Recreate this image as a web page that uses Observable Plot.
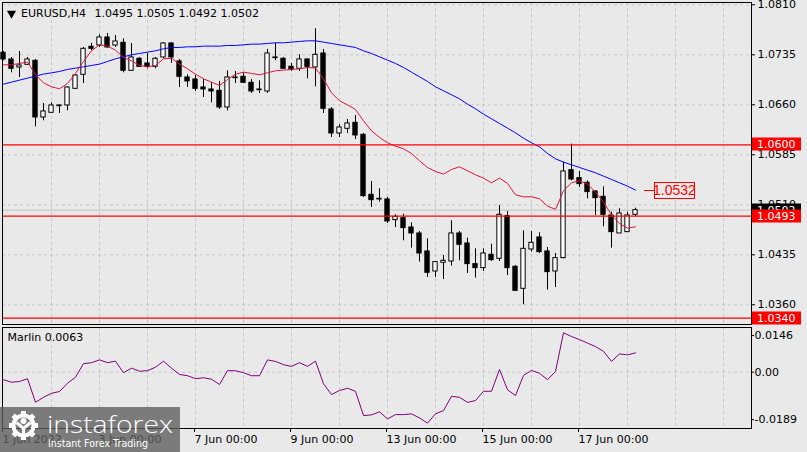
<!DOCTYPE html>
<html><head><meta charset="utf-8">
<script src="https://cdn.jsdelivr.net/npm/d3@7"></script>
<script src="https://cdn.jsdelivr.net/npm/@observablehq/plot@0.6"></script>
<style>
html,body{margin:0;padding:0;background:#e9e9e9;}
#chart{width:807px;height:452px;position:relative;overflow:hidden;background:#e9e9e9;}
#chart svg{display:block;}
</style></head><body><div id="chart"></div>
<script>
// ---- data (EURUSD H4, 1 Jun 2022 00:00 onward, one bar per index) ----
const opens = [1.0738,1.0728,1.0716,1.0720,1.0726,1.0641,1.0648,1.0658,1.0659,1.0684,
1.0705,1.0747,1.0749,1.0761,1.0749,1.0753,1.0711,1.0729,1.0722,1.0717,
1.0731,1.0752,1.0725,1.0701,1.0698,1.0686,1.0683,1.0681,1.0656,1.0700,
1.0702,1.0693,1.0682,1.0680,1.0730,1.0729,1.0717,1.0714,1.0728,1.0716,
1.0737,1.0653,1.0617,1.0624,1.0633,1.0615,1.0525,1.0519,1.0518,1.0487,
1.0490,1.0476,1.0467,1.0440,1.0410,1.0423,1.0425,1.0467,1.0452,1.0421,
1.0415,1.0435,1.0429,1.0493,1.0417,1.0384,1.0443,1.0461,1.0440,1.0410,
1.0430,1.0562,1.0550,1.0543,1.0530,1.0522,1.0494,1.0467,1.0469,1.0495];
const highs = [1.0740,1.0731,1.0740,1.0731,1.0728,1.0662,1.0663,1.0660,1.0687,1.0705,
1.0746,1.0752,1.0765,1.0767,1.0764,1.0759,1.0752,1.0731,1.0737,1.0731,
1.0753,1.0753,1.0728,1.0705,1.0704,1.0698,1.0693,1.0695,1.0711,1.0710,
1.0708,1.0698,1.0696,1.0743,1.0752,1.0731,1.0722,1.0735,1.0729,1.0774,
1.0743,1.0656,1.0630,1.0638,1.0644,1.0617,1.0545,1.0534,1.0521,1.0495,
1.0496,1.0483,1.0470,1.0459,1.0425,1.0434,1.0486,1.0470,1.0460,1.0444,
1.0444,1.0451,1.0509,1.0500,1.0419,1.0471,1.0470,1.0468,1.0446,1.0437,
1.0574,1.0601,1.0560,1.0546,1.0531,1.0537,1.0499,1.0504,1.0499,1.0505];
const lows = [1.0726,1.0708,1.0701,1.0719,1.0627,1.0636,1.0647,1.0647,1.0651,1.0683,
1.0692,1.0741,1.0746,1.0745,1.0746,1.0708,1.0710,1.0716,1.0714,1.0714,
1.0729,1.0722,1.0686,1.0686,1.0680,1.0671,1.0663,1.0653,1.0651,1.0692,
1.0692,1.0677,1.0677,1.0677,1.0726,1.0713,1.0710,1.0710,1.0699,1.0687,
1.0647,1.0611,1.0611,1.0617,1.0608,1.0521,1.0506,1.0514,1.0482,1.0476,
1.0456,1.0445,1.0424,1.0401,1.0401,1.0398,1.0418,1.0426,1.0407,1.0400,
1.0410,1.0425,1.0425,1.0404,1.0380,1.0360,1.0439,1.0437,1.0382,1.0386,
1.0429,1.0546,1.0536,1.0519,1.0494,1.0477,1.0445,1.0467,1.0469,1.0492];
const closes = [1.0728,1.0714,1.0719,1.0728,1.0641,1.0650,1.0659,1.0659,1.0686,1.0704,
1.0744,1.0744,1.0761,1.0746,1.0755,1.0711,1.0731,1.0717,1.0717,1.0729,
1.0752,1.0731,1.0702,1.0695,1.0684,1.0683,1.0680,1.0656,1.0701,1.0701,
1.0693,1.0680,1.0683,1.0737,1.0731,1.0714,1.0713,1.0728,1.0717,1.0735,
1.0654,1.0617,1.0626,1.0632,1.0614,1.0523,1.0517,1.0518,1.0485,1.0492,
1.0475,1.0467,1.0437,1.0408,1.0424,1.0426,1.0467,1.0450,1.0421,1.0415,
1.0437,1.0427,1.0495,1.0415,1.0381,1.0444,1.0453,1.0439,1.0409,1.0430,
1.0560,1.0548,1.0541,1.0529,1.0520,1.0495,1.0469,1.0497,1.0494,1.0502];
const maFast = [1.0720,1.0720,1.0722,1.0724,1.0705,1.0693,1.0687,1.0684,1.0692,1.0707,
1.0725,1.0741,1.0750,1.0748,1.0742,1.0731,1.0726,1.0719,1.0717,1.0719,
1.0729,1.0730,1.0721,1.0714,1.0706,1.0699,1.0694,1.0689,1.0698,1.0706,
1.0709,1.0707,1.0705,1.0708,1.0711,1.0712,1.0713,1.0714,1.0716,1.0715,
1.0699,1.0678,1.0666,1.0660,1.0653,1.0636,1.0621,1.0611,1.0603,1.0598,
1.0594,1.0587,1.0576,1.0566,1.0560,1.0556,1.0563,1.0567,1.0561,1.0555,
1.0550,1.0543,1.0550,1.0542,1.0525,1.0522,1.0522,1.0519,1.0508,1.0503,
1.0531,1.0543,1.0546,1.0541,1.0529,1.0514,1.0495,1.0482,1.0475,1.0477];
const maSlow = [1.0691,1.0694,1.0697,1.0700,1.0703,1.0706,1.0708,1.0710,1.0713,1.0715,
1.0717,1.0719,1.0721,1.0725,1.0729,1.0732,1.0735,1.0737,1.0739,1.0741,
1.0744,1.0746,1.0746,1.0747,1.0747,1.0748,1.0748,1.0748,1.0749,1.0749,
1.0750,1.0751,1.0751,1.0752,1.0753,1.0753,1.0754,1.0755,1.0756,1.0756,
1.0754,1.0752,1.0750,1.0748,1.0746,1.0741,1.0737,1.0732,1.0727,1.0722,
1.0716,1.0709,1.0702,1.0695,1.0687,1.0681,1.0675,1.0669,1.0661,1.0654,
1.0646,1.0639,1.0632,1.0625,1.0618,1.0610,1.0603,1.0597,1.0587,1.0579,
1.0574,1.0570,1.0566,1.0562,1.0558,1.0553,1.0548,1.0543,1.0538,1.0532];
const marlin = [-0.0030,-0.0040,-0.0037,-0.0026,-0.0120,-0.0100,-0.0084,-0.0077,-0.0044,-0.0020,
0.0034,0.0038,0.0049,0.0038,0.0044,-0.0002,0.0016,0.0004,0.0006,0.0020,
0.0044,0.0016,-0.0009,-0.0014,-0.0026,-0.0022,-0.0028,-0.0049,0.0006,0.0006,
-0.0002,-0.0014,-0.0014,0.0049,0.0043,0.0030,0.0023,0.0038,0.0023,0.0044,
-0.0046,-0.0089,-0.0073,-0.0064,-0.0076,-0.0173,-0.0170,-0.0158,-0.0186,-0.0169,
-0.0169,-0.0166,-0.0182,-0.0203,-0.0166,-0.0153,-0.0096,-0.0100,-0.0120,-0.0113,
-0.0076,-0.0076,0.0011,-0.0070,-0.0093,-0.0013,0.0007,-0.0004,-0.0030,0.0003,
0.0157,0.0142,0.0130,0.0116,0.0102,0.0083,0.0043,0.0073,0.0069,0.0077];

const priceTicks = [1.0810,1.0735,1.0660,1.0585,1.0510,1.0435,1.0360];
const marlinTicks = [0.0146,0,-0.0189];
const marlinTickLabels = ["0.0146","0.00","-0.0189"];
const dateTicks = [0,12,24,36,48,60,72];
const dateLabels = ["1 Jun 2022","3 Jun 00:00","7 Jun 00:00","9 Jun 00:00","13 Jun 00:00","15 Jun 00:00","17 Jun 00:00"];
const gridBars = [6,12,18,24,30,36,42,48,54,60,66,72,78,84,90];
const levels = [1.0600,1.0493,1.0340];
const bidPrice = 1.0502;
const symbolTitle = "EURUSD,H4";
const ohlcTitle = "1.0495 1.0505 1.0492 1.0502";
const marlinTitle = "Marlin 0.0063";
const slowLabel = "1.0532";

// ---- build ----
const bars = opens.map((o,i)=>({i, o, h: highs[i], l: lows[i], c: closes[i]}));
const fast = maFast.map((v,i)=>({i, v}));
const slow = maSlow.map((v,i)=>({i, v}));
const osc = marlin.map((v,i)=>({i, v}));

const BG = "#e9e9e9";
const GRID = "#c6c6c6";
const FONT = "DejaVu Sans, Verdana, sans-serif";
const xDomain = [-0.125, 93.5];
const common = {width: 807, marginLeft: 2, marginRight: 56,
  style: {background: BG, fontFamily: FONT, fontSize: "11px", color: "#000", overflow: "visible"}};

const main = Plot.plot({
  ...common, height: 326, marginTop: 2, marginBottom: 2,
  x: {domain: xDomain, axis: null},
  y: {domain: [1.033045, 1.081345], axis: null, label: null},
  marks: [
    Plot.ruleX(gridBars, {stroke: GRID, strokeDasharray: "3,3"}),
    Plot.ruleY(priceTicks, {stroke: GRID, strokeDasharray: "3,3"}),
    Plot.ruleY([bidPrice], {stroke: "#c0c0c0"}),
    Plot.ruleX(bars, {x: "i", y1: "l", y2: "h", stroke: "#000"}),
    Plot.rect(bars, {x1: d => d.i - 0.27, x2: d => d.i + 0.27, y1: "o", y2: "c",
      fill: d => d.c >= d.o ? "#fff" : "#000", stroke: "#000"}),
    Plot.line(slow, {x: "i", y: "v", stroke: "#0000ff", strokeWidth: 1}),
    Plot.line(fast, {x: "i", y: "v", stroke: "#dc143c", strokeWidth: 1}),
    Plot.ruleY(levels, {stroke: "#ff0000", strokeWidth: 1.2}),
    Plot.axisY({anchor: "right", ticks: priceTicks, tickFormat: d => d.toFixed(4),
      tickSize: 3, tickPadding: 3, label: null, fontSize: 11}),
    Plot.frame({stroke: "#000"}),
    Plot.dot([0], {frameAnchor: "top-left", dx: 9, dy: 11, symbol: "triangle", r: 3.4, rotate: 180, fill: "#000", stroke: null}),
    Plot.text([symbolTitle], {text: d => d, frameAnchor: "top-left", dx: 18.5, dy: 10.7, textAnchor: "start", lineAnchor: "middle", fill: "#000"}),
    Plot.text([ohlcTitle], {text: d => d, frameAnchor: "top-left", dx: 92, dy: 10.7, textAnchor: "start", lineAnchor: "middle", fill: "#000"})
  ]
});

const ind = Plot.plot({
  ...common, height: 126, marginTop: 1, marginBottom: 24,
  x: {domain: xDomain, label: null},
  y: {domain: [-0.02243, 0.01781], label: null},
  marks: [
    Plot.ruleX(gridBars, {stroke: GRID, strokeDasharray: "3,3"}),
    Plot.ruleY([0], {stroke: GRID, strokeDasharray: "3,3"}),
    Plot.line(osc, {x: "i", y: "v", stroke: "#800080", strokeWidth: 1}),
    Plot.axisY({anchor: "right", ticks: marlinTicks, tickFormat: d => marlinTickLabels[marlinTicks.indexOf(d)],
      tickSize: 2, tickPadding: 1, label: null, fontSize: 11}),
    Plot.axisX({anchor: "bottom", ticks: dateTicks, tickFormat: d => dateLabels[dateTicks.indexOf(d)],
      tickSize: 4, tickPadding: 3, textAnchor: "start", dx: -1, label: null, fontSize: 11}),
    Plot.frame({stroke: "#000"}),
    Plot.text([marlinTitle], {text: d => d, frameAnchor: "top-left", dx: 5, dy: 10.3, textAnchor: "start", lineAnchor: "middle", fill: "#000"})
  ]
});

const host = document.getElementById("chart");
host.appendChild(main);
host.appendChild(ind);

// ---- price-axis labels, positioned through the y scale ----
const ys = main.scale("y"), xs = main.scale("x");
const gM = d3.select(main).append("g").attr("font-family", FONT).attr("font-size", 11).attr("text-anchor", "start");
const axisTags = [{v: bidPrice, fill: "#000"}].concat(levels.map(v => ({v, fill: "#ff0000"})));
for (const t of axisTags) {
  const y = ys.apply(t.v);
  gM.append("rect").attr("x", 752).attr("y", Math.round(y) - 6.5).attr("width", 49).attr("height", 13).attr("fill", t.fill);
  gM.append("text").attr("x", 757).attr("y", y).attr("dy", "0.36em").attr("text-anchor", "start").attr("fill", "#fff").text(t.v.toFixed(4));
}
// slow MA value tag
{
  const last = slow[slow.length - 1];
  const x0 = xs.apply(last.i), y = ys.apply(last.v);
  gM.append("line").attr("x1", x0 + 9).attr("x2", x0 + 19).attr("y1", Math.round(y) + 0.5).attr("y2", Math.round(y) + 0.5).attr("stroke", "#ff0000");
  gM.append("rect").attr("x", x0 + 19.5).attr("y", Math.round(y) - 7.5).attr("width", 40).attr("height", 16)
    .attr("fill", BG).attr("stroke", "#ff0000");
  gM.append("text").attr("x", x0 + 39.5).attr("y", y + 0.5).attr("dy", "0.36em").attr("text-anchor", "middle")
    .attr("font-family", "Liberation Sans Narrow, Liberation Sans, Arial, sans-serif").attr("font-size", 14)
    .attr("fill", "#ff0000").text(slowLabel);
}

// ---- watermark ----
const gL = d3.select(ind).append("g").attr("text-anchor", "start");
gL.append("rect").attr("x", 0).attr("y", 81).attr("width", 180).attr("height", 45).attr("fill", "rgba(93,93,93,0.79)");
const cx = 23.5, cy = 99.5;
for (let a = 0; a < 360; a += 45) {
  gL.append("rect").attr("x", cx - 2.5).attr("y", cy - 14.5).attr("width", 5).attr("height", 5).attr("fill", "#fff")
    .attr("transform", `rotate(${a},${cx},${cy})`);
}
gL.append("circle").attr("cx", cx).attr("cy", cy).attr("r", 10).attr("fill", "none").attr("stroke", "#fff").attr("stroke-width", 4);
gL.append("circle").attr("cx", cx).attr("cy", cy - 4.5).attr("r", 3).attr("fill", "#fff");
gL.append("path").attr("d", `M${cx-7},${cy-3} L${cx},${cy+3} L${cx+7},${cy-3} M${cx},${cy+2} L${cx},${cy+12}`)
  .attr("stroke", "#fff").attr("stroke-width", 3).attr("fill", "none");
gL.append("text").attr("x", 47).attr("y", 107).attr("text-anchor", "start").attr("font-family", "Open Sans, DejaVu Sans, sans-serif").attr("font-size", 24)
  .attr("font-weight", 300).attr("fill", "#fff").attr("textLength", 126).attr("lengthAdjust", "spacingAndGlyphs").text("instaforex");
gL.append("text").attr("x", 48).attr("y", 120.5).attr("text-anchor", "start").attr("font-family", "DejaVu Sans, sans-serif").attr("font-size", 10.5)
  .attr("fill", "#fff").attr("textLength", 100).attr("lengthAdjust", "spacingAndGlyphs").text("Instant Forex Trading");
</script></body></html>
